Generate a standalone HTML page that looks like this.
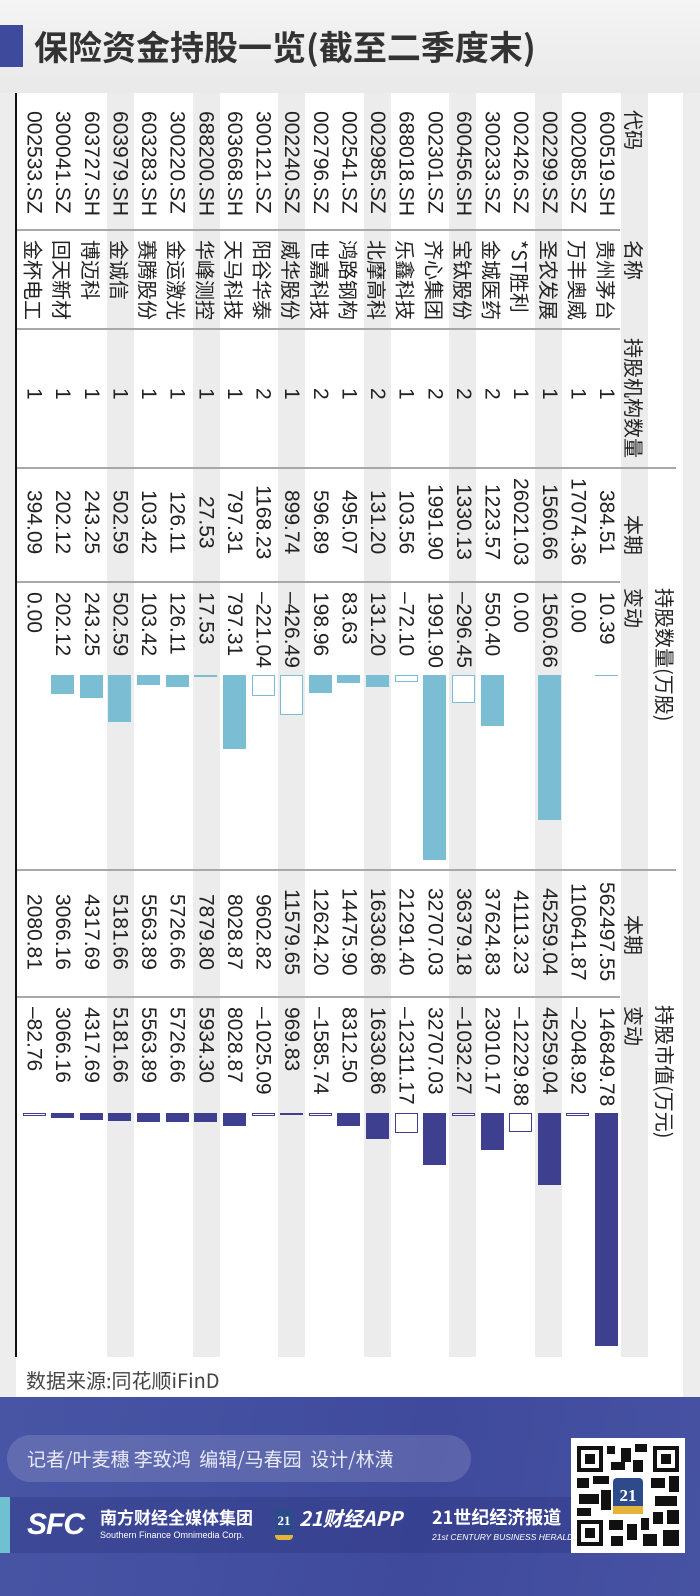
<!DOCTYPE html>
<html><head><meta charset="utf-8">
<style>
*{margin:0;padding:0;box-sizing:border-box}
body{width:700px;height:1596px;position:relative;overflow:hidden;background:#ededed;font-family:"Liberation Sans","Noto Sans CJK SC",sans-serif;color:#222}
.abs{position:absolute}
.v{position:absolute;writing-mode:vertical-rl;text-orientation:sideways;white-space:nowrap;line-height:28px;width:28px}
.cjk{font-family:"Noto Sans CJK SC","WenQuanYi Zen Hei",sans-serif}
</style></head>
<body>
<div class="abs" style="left:0;top:0;width:700px;height:93px;background:linear-gradient(#f4f4f4,#e9e9e9)"></div>
<div class="abs" style="left:0;top:25px;width:23px;height:42px;background:#3e4a9c"></div>
<div class="abs cjk" style="left:34px;top:22px;font-size:34px;font-weight:bold;color:#333;line-height:48px">保险资金持股一览(截至二季度末)</div>

<div class="abs" style="left:16px;top:93px;width:667px;height:1304px;background:#fff"></div>
<div id="stripes"></div>
<div class="abs" style="left:15px;top:93px;width:2px;height:1264px;background:#111"></div>

<div class="abs" style="left:17px;top:229px;width:603px;height:2px;background:#a8a8a8"></div>
<div class="abs" style="left:17px;top:328px;width:603px;height:2px;background:#a8a8a8"></div>
<div class="abs" style="left:17px;top:467px;width:659px;height:2px;background:#a8a8a8"></div>
<div class="abs" style="left:17px;top:581px;width:603px;height:2px;background:#a8a8a8"></div>
<div class="abs" style="left:17px;top:869px;width:659px;height:2px;background:#a8a8a8"></div>
<div class="abs" style="left:17px;top:996px;width:603px;height:2px;background:#a8a8a8"></div>

<div class="v cjk" style="left:620px;top:110px;font-size:20px">代码</div>
<div class="v cjk" style="left:620px;top:240px;font-size:20px">名称</div>
<div class="v cjk" style="left:620px;top:338px;font-size:20px">持股机构数量</div>
<div class="v cjk" style="left:620px;top:515px;font-size:20px">本期</div>
<div class="v cjk" style="left:620px;top:588px;font-size:20px">变动</div>
<div class="v cjk" style="left:651px;top:588px;font-size:20px">持股数量(万股)</div>
<div class="v cjk" style="left:620px;top:915px;font-size:20px">本期</div>
<div class="v cjk" style="left:620px;top:1006px;font-size:20px">变动</div>
<div class="v cjk" style="left:651px;top:1005px;font-size:20px">持股市值(万元)</div>

<div id="rows"></div>

<div class="abs cjk" style="left:26px;top:1366px;font-size:20px;color:#444;line-height:28px">数据来源:同花顺iFinD</div>

<div class="abs" style="left:0;top:1397px;width:700px;height:199px;background:linear-gradient(100deg,#4855a5,#3f4a9c 60%,#4752a3)"></div>
<div class="abs cjk" style="left:7px;top:1435px;width:464px;height:47px;border-radius:24px;background:rgba(255,255,255,0.14);color:#e8eaf6;font-size:19px;line-height:47px;padding-left:20px">记者/叶麦穗 李致鸿&nbsp; 编辑/马春园&nbsp; 设计/林潢</div>
<div class="abs" style="left:0;top:1497px;width:580px;height:56px;background:rgba(30,40,110,0.25)"></div>
<div class="abs" style="left:0;top:1497px;width:10px;height:56px;background:#6fc0d0"></div>
<div class="abs" style="left:27px;top:1508px;font-size:30px;font-weight:bold;font-style:italic;color:#fff;letter-spacing:-1px">SFC</div>
<div class="abs cjk" style="left:100px;top:1506px;font-size:17px;font-weight:bold;color:#fff;line-height:22px">南方财经全媒体集团</div>
<div class="abs" style="left:100px;top:1530px;font-size:9px;color:#fff">Southern Finance Omnimedia Corp.</div>
<div class="abs" style="left:275px;top:1508px;width:18px;height:32px;border-radius:4px;background:#2d4a8a;color:#fff;font:bold 13px 'Liberation Serif',serif;text-align:center;line-height:26px;border-bottom:5px solid #e4b43a">21</div>
<div class="abs cjk" style="left:299px;top:1505px;font-size:20px;font-weight:bold;font-style:italic;color:#fff;line-height:26px">21财经APP</div>
<div class="abs cjk" style="left:432px;top:1505px;font-size:18px;font-weight:bold;color:#fff;line-height:24px">21世纪经济报道</div>
<div class="abs" style="left:432px;top:1532px;font-size:8.5px;font-style:italic;color:#fff">21st CENTURY BUSINESS HERALD</div>
<svg class="abs" style="left:571px;top:1438px" width="114" height="115" viewBox="0 0 114 115">
<rect width="114" height="115" fill="#fff"/>
<g fill="#111">
<rect x="6" y="8" width="26" height="26"/><rect x="82" y="8" width="26" height="26"/><rect x="6" y="82" width="26" height="26"/>
<rect x="36" y="8" width="8" height="8"/><rect x="50" y="10" width="10" height="14"/><rect x="64" y="6" width="12" height="8"/><rect x="40" y="24" width="14" height="8"/><rect x="62" y="22" width="10" height="12"/>
<rect x="6" y="40" width="12" height="10"/><rect x="22" y="38" width="16" height="8"/><rect x="8" y="56" width="20" height="10"/><rect x="30" y="52" width="10" height="20"/><rect x="6" y="70" width="14" height="8"/>
<rect x="80" y="40" width="14" height="10"/><rect x="98" y="38" width="10" height="16"/><rect x="84" y="58" width="22" height="10"/><rect x="82" y="74" width="10" height="12"/><rect x="96" y="72" width="12" height="14"/>
<rect x="38" y="82" width="14" height="10"/><rect x="56" y="86" width="10" height="16"/><rect x="40" y="98" width="12" height="10"/><rect x="70" y="80" width="8" height="12"/><rect x="72" y="96" width="14" height="12"/><rect x="92" y="92" width="16" height="16"/>
</g>
<g fill="#fff"><rect x="10" y="12" width="18" height="18"/><rect x="86" y="12" width="18" height="18"/><rect x="10" y="86" width="18" height="18"/></g>
<g fill="#111"><rect x="14" y="16" width="10" height="10"/><rect x="90" y="16" width="10" height="10"/><rect x="14" y="90" width="10" height="10"/></g>
<rect x="42" y="40" width="30" height="36" rx="4" fill="#2d4a8a"/><rect x="42" y="68" width="30" height="8" fill="#e4b43a"/>
<text x="57" y="63" fill="#fff" font-family="Liberation Serif,serif" font-weight="bold" font-size="17" text-anchor="middle">21</text>
</svg>

<script>
const codes=["600519.SH","002085.SZ","002299.SZ","002426.SZ","300233.SZ","600456.SH","002301.SZ","688018.SH","002985.SZ","002541.SZ","002796.SZ","002240.SZ","300121.SZ","603668.SH","688200.SH","300220.SZ","603283.SH","603979.SH","603727.SH","300041.SZ","002533.SZ"];
const names=["贵州茅台","万丰奥威","圣农发展","*ST胜利","金城医药","宝钛股份","齐心集团","乐鑫科技","北摩高科","鸿路钢构","世嘉科技","威华股份","阳谷华泰","天马科技","华峰测控","金运激光","赛腾股份","金诚信","博迈科","回天新材","金杯电工"];
const counts=[1,1,1,1,2,2,2,1,2,1,2,1,2,1,1,1,1,1,1,1,1];
const qtyNow=[384.51,17074.36,1560.66,26021.03,1223.57,1330.13,1991.90,103.56,131.20,495.07,596.89,899.74,1168.23,797.31,27.53,126.11,103.42,502.59,243.25,202.12,394.09];
const qtyChg=[10.39,0.00,1560.66,0.00,550.40,-296.45,1991.90,-72.10,131.20,83.63,198.96,-426.49,-221.04,797.31,17.53,126.11,103.42,502.59,243.25,202.12,0.00];
const mvNow=[562497.55,110641.87,45259.04,41113.23,37624.83,36379.18,32707.03,21291.40,16330.86,14475.90,12624.20,11579.65,9602.82,8028.87,7879.80,5726.66,5563.89,5181.66,4317.69,3066.16,2080.81];
const mvChg=[146849.78,-2048.92,45259.04,-12229.88,23010.17,-1032.27,32707.03,-12311.17,16330.86,8312.50,-1585.74,969.83,-1025.09,8028.87,5934.30,5726.66,5563.89,5181.66,4317.69,3066.16,-82.76];

// background stripes
const st=document.getElementById('stripes');
for(let k=0;k<7;k++){
  const s=document.createElement('div');
  
  
  s.className='abs';
  s.style.cssText=`left:${107+k*85.6}px;top:93px;width:27px;height:1264px;background:#ececec`;
  st.appendChild(s);
}
const rowX=i=>606-i*28.62;
const qtyScale=v=>Math.abs(v)*0.0929;
const mvScale=v=>Math.abs(v)*0.001589;
const fmt=v=>(v<0?'–':'')+Math.abs(v).toFixed(2);
const root=document.getElementById('rows');
function txt(text,x,top,size,cls,extra,name){
  const d=document.createElement('div');
  
  
  d.className='v '+(cls||'');
  d.textContent=text;
  d.style.cssText=`left:${x-14}px;top:${top}px;font-size:${size}px;`+(extra||'');
  root.appendChild(d);
}
function bar(v,x,y0,scale,color,name){
  if(v===0)return;
  const h=Math.max(1,scale(v));
  const b=document.createElement('div');
  
  
  b.className='abs';
  if(v>0)b.style.cssText=`left:${x-11}px;top:${y0}px;width:23px;height:${h}px;background:${color}`;
  else b.style.cssText=`left:${x-11}px;top:${y0}px;width:23px;height:${Math.max(3,h)}px;background:#fff;border:1.5px solid ${color}`;
  root.appendChild(b);
}
codes.forEach((c,i)=>{
  const x=rowX(i);
  txt(c,x,111,21,'','','stock-code');
  txt(names[i],x,240,20,'cjk','','stock-name');
  txt(String(counts[i]),x,388,21,'','','institution-count');
  txt(fmt(qtyNow[i]),x,472,21,'','height:100px;text-align:center;','qty-current');
  txt(fmt(qtyChg[i]),x,592,21,'','','qty-change');
  bar(qtyChg[i],x,675,qtyScale,'#7bbdd2','qty-change-bar');
  txt(fmt(mvNow[i]),x,880,21,'','height:104px;text-align:center;','mv-current');
  txt(fmt(mvChg[i]),x,1007,21,'','','mv-change');
  bar(mvChg[i],x,1113,mvScale,'#3f3f8f','mv-change-bar');
});
</script>
</body></html>
